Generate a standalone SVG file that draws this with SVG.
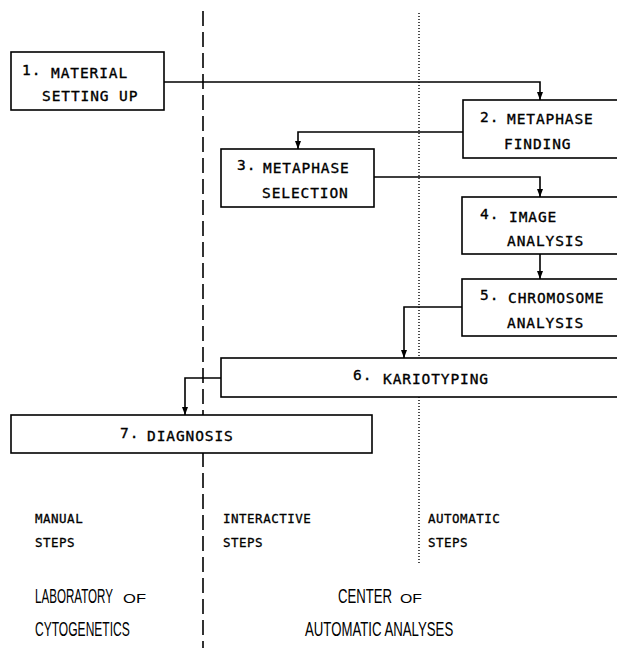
<svg xmlns="http://www.w3.org/2000/svg" width="617" height="648" viewBox="0 0 617 648">
<style>
.box{fill:#fff;stroke:#000;stroke-width:1.6}
.t{font-family:"DejaVu Sans Mono","Liberation Mono",monospace;font-size:14.5px;letter-spacing:0.9px;fill:#000;stroke:#000;stroke-width:0.35}
.s{font-family:"DejaVu Sans Mono","Liberation Mono",monospace;font-size:12.5px;letter-spacing:0.5px;fill:#000;stroke:#000;stroke-width:0.3}
.n{font-family:"Liberation Sans",Arial,sans-serif;font-size:20px;fill:#000}
.o{font-family:"Liberation Sans",Arial,sans-serif;font-size:12px;fill:#000}
.c{fill:none;stroke:#000;stroke-width:1.6}
</style>
<defs>
<marker id="ad" markerWidth="6" markerHeight="8" refX="3" refY="8" markerUnits="userSpaceOnUse" viewBox="0 0 6 8">
<path d="M0,0 L6,0 L3,8 Z" fill="#000"/>
</marker>
</defs>
<g id="separators">
<line x1="203" y1="11" x2="203" y2="648" stroke="#000" stroke-width="1.6" stroke-dasharray="15 6"/>
<line x1="419" y1="13" x2="419" y2="563" stroke="#000" stroke-width="1.4" stroke-dasharray="1 2"/>
</g>
<g id="connectors">
<path class="c" d="M164,82 H540 V100" marker-end="url(#ad)"/>
<path class="c" d="M463,132 H298 V149" marker-end="url(#ad)"/>
<path class="c" d="M374,177 H540 V197" marker-end="url(#ad)"/>
<path class="c" d="M540,254 V279" marker-end="url(#ad)"/>
<path class="c" d="M462,307 H404 V358" marker-end="url(#ad)"/>
<path class="c" d="M221,378 H185 V415" marker-end="url(#ad)"/>
</g>
<g id="node1">
<rect class="box" x="11" y="52" width="153" height="58"/>
<text class="t" x="22" y="75">1.</text><text class="t" x="51" y="78">MATERIAL</text>
<text class="t" x="42" y="101">SETTING UP</text>
</g>
<g id="node2">
<rect class="box" x="463" y="100" width="160" height="58"/>
<text class="t" x="480" y="122">2.</text><text class="t" x="507" y="124">METAPHASE</text>
<text class="t" x="504" y="149">FINDING</text>
</g>
<g id="node3">
<rect class="box" x="221" y="149" width="153" height="58"/>
<text class="t" x="237" y="170">3.</text><text class="t" x="263" y="173">METAPHASE</text>
<text class="t" x="262" y="198">SELECTION</text>
</g>
<g id="node4">
<rect class="box" x="462" y="197" width="160" height="57"/>
<text class="t" x="480" y="219">4.</text><text class="t" x="509" y="222">IMAGE</text>
<text class="t" x="507" y="246">ANALYSIS</text>
</g>
<g id="node5">
<rect class="box" x="462" y="279" width="160" height="57"/>
<text class="t" x="480" y="300">5.</text><text class="t" x="508" y="303">CHROMOSOME</text>
<text class="t" x="507" y="328">ANALYSIS</text>
</g>
<g id="node6">
<rect class="box" x="221" y="358" width="402" height="39"/>
<text class="t" x="353" y="380">6.</text><text class="t" x="383" y="384">KARIOTYPING</text>
</g>
<g id="node7">
<rect class="box" x="11" y="415" width="361" height="38"/>
<text class="t" x="120" y="438">7.</text><text class="t" x="147" y="441">DIAGNOSIS</text>
</g>
<g id="labels">
<text class="s" x="35" y="523">MANUAL</text>
<text class="s" x="35" y="547">STEPS</text>
<text class="s" x="223" y="523">INTERACTIVE</text>
<text class="s" x="223" y="547">STEPS</text>
<text class="s" x="428" y="523">AUTOMATIC</text>
<text class="s" x="428" y="547">STEPS</text>
<text class="n" transform="translate(35,603) scale(0.6,1)" textLength="130" lengthAdjust="spacingAndGlyphs">LABORATORY</text>
<text class="o" x="123" y="603" textLength="23" lengthAdjust="spacingAndGlyphs">OF</text>
<text class="n" transform="translate(35,636) scale(0.6,1)" textLength="158" lengthAdjust="spacingAndGlyphs">CYTOGENETICS</text>
<text class="n" transform="translate(338,603) scale(0.6,1)" textLength="90" lengthAdjust="spacingAndGlyphs">CENTER</text>
<text class="o" x="400" y="603" textLength="22" lengthAdjust="spacingAndGlyphs">OF</text>
<text class="n" transform="translate(305,636) scale(0.6,1)" textLength="247" lengthAdjust="spacingAndGlyphs">AUTOMATIC ANALYSES</text>
</g>
</svg>
